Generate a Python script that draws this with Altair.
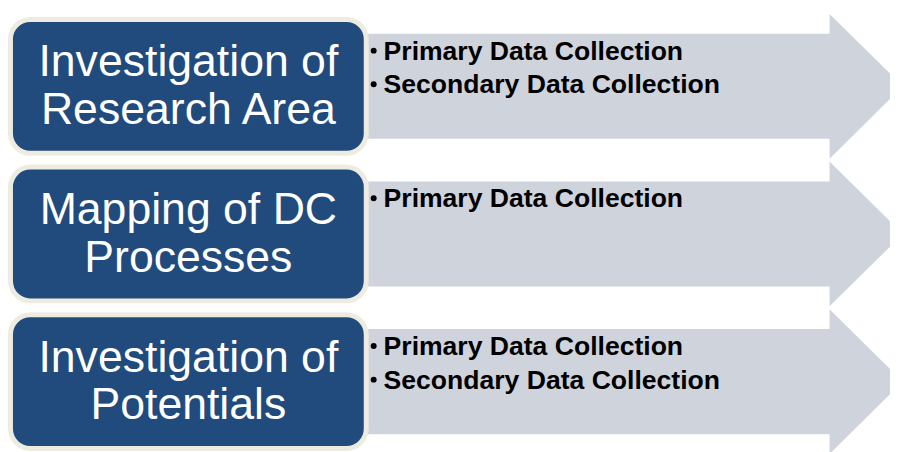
import altair as alt
import pandas as pd

# ---- content ----
step_lines = [
    ["Investigation of", "Research Area"],
    ["Mapping of DC", "Processes"],
    ["Investigation of", "Potentials"],
]
bullet_items = [
    ["Primary Data Collection", "Secondary Data Collection"],
    ["Primary Data Collection"],
    ["Primary Data Collection", "Secondary Data Collection"],
]

# ---- layout (page pixel coordinates of the reference) ----
row_centers = [85, 234, 383]
box_left, box_right, box_half = 10.5, 369.5, 67.5
arrow_left, head_base, arrow_tip = 300, 837, 911
body_half, head_half = 53, 73
title_x = 190
title_offsets = [-10, 38]
bullet_x, text_x = 377, 387
bullet_offsets = [-27, 7]

W, H = 890, 444
X0, Y0 = 8, 8

body_rows, head_rows, box_rows, title_rows, bullet_rows = [], [], [], [], []
for i, c in enumerate(row_centers):
    body_rows.append({"row": i, "x": arrow_left, "x2": head_base + 1,
                      "y": c - body_half, "y2": c + body_half})
    head_rows.append({"row": i, "x": head_base, "y": c - head_half, "y2": c + head_half})
    head_rows.append({"row": i, "x": arrow_tip, "y": c, "y2": c})
    box_rows.append({"row": i, "x": box_left, "x2": box_right,
                     "y": c - box_half, "y2": c + box_half})
    for j, line in enumerate(step_lines[i]):
        title_rows.append({"x": title_x, "y": c + title_offsets[j], "text": line})
    for j, item in enumerate(bullet_items[i]):
        bullet_rows.append({"bx": bullet_x, "x": text_x,
                            "y": c + bullet_offsets[j], "by": c + bullet_offsets[j] - 9,
                            "text": item})

bodies = pd.DataFrame(body_rows)
heads = pd.DataFrame(head_rows)
boxes = pd.DataFrame(box_rows)
titles = pd.DataFrame(title_rows)
bullets = pd.DataFrame(bullet_rows)

xs = alt.Scale(domain=[X0, X0 + W], nice=False, zero=False)
ys = alt.Scale(domain=[Y0, Y0 + H], nice=False, zero=False, reverse=True)
GRAY = "#CFD3DC"

body_layer = alt.Chart(bodies).mark_rect(color=GRAY).encode(
    x=alt.X("x:Q", scale=xs, axis=None),
    x2="x2:Q",
    y=alt.Y("y:Q", scale=ys, axis=None),
    y2="y2:Q",
)

head_layer = alt.Chart(heads).mark_area(color=GRAY, opacity=1).encode(
    x=alt.X("x:Q", scale=xs, axis=None),
    y=alt.Y("y:Q", scale=ys, axis=None),
    y2="y2:Q",
    detail="row:N",
)

box_layer = alt.Chart(boxes).mark_rect(
    cornerRadius=20, fill="#214A7D", stroke="#EEECE1", strokeWidth=5
).encode(
    x=alt.X("x:Q", scale=xs, axis=None),
    x2="x2:Q",
    y=alt.Y("y:Q", scale=ys, axis=None),
    y2="y2:Q",
)

title_layer = alt.Chart(titles).mark_text(
    font="Liberation Sans", fontSize=45, color="white",
    align="center", baseline="alphabetic"
).encode(
    x=alt.X("x:Q", scale=xs, axis=None),
    y=alt.Y("y:Q", scale=ys, axis=None),
    text="text:N",
)

dot_layer = alt.Chart(bullets).mark_circle(color="black", opacity=1, size=36).encode(
    x=alt.X("bx:Q", scale=xs, axis=None),
    y=alt.Y("by:Q", scale=ys, axis=None),
)

bullet_layer = alt.Chart(bullets).mark_text(
    font="Liberation Sans", fontSize=26.8, fontWeight="bold", color="black",
    align="left", baseline="alphabetic"
).encode(
    x=alt.X("x:Q", scale=xs, axis=None),
    y=alt.Y("y:Q", scale=ys, axis=None),
    text="text:N",
)

chart = alt.layer(
    body_layer, head_layer, box_layer, title_layer, dot_layer, bullet_layer
).properties(
    width=W, height=H, padding=0, autosize=alt.AutoSizeParams(type="none")
).configure_view(strokeWidth=0)

chart.save("out.html", embed_options={"renderer": "svg", "actions": False})
